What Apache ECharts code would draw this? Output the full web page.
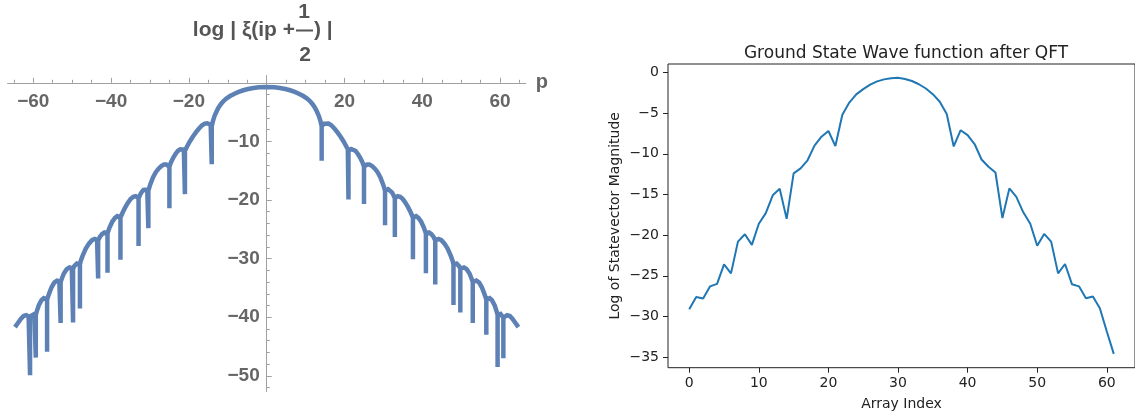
<!DOCTYPE html>
<html>
<head>
<meta charset="utf-8">
<script src="https://cdn.jsdelivr.net/npm/echarts@6/dist/echarts.min.js"></script>
<style>
  html, body { margin: 0; padding: 0; background: #fff; }
  #chart { width: 1135px; height: 419px; }
</style>
</head>
<body>
<div id="chart"></div>
<script>
// log|xi(ip + 1/2)| traced along p < 0 (points as [p, value]; spikes drop at the zeros)
const xiCurveNeg = [
  [-64.7, -41.7], [-63.9, -40.95], [-63.2, -40.3], [-62.5, -39.8], [-61.8, -39.65], [-61.2, -39.85],
  [-60.83, -40.1], [-60.83, -49.9], [-60.83, -40.1],
  [-60.5, -39.75], [-60.1, -39.45], [-59.7, -39.45],
  [-59.35, -39.6], [-59.35, -46.9], [-59.35, -39.6],
  [-59.1, -39.0], [-58.6, -38.0], [-57.9, -37.1], [-57.3, -36.75], [-56.8, -36.85],
  [-56.45, -37.0], [-56.45, -45.9], [-56.45, -37.0],
  [-56.0, -36.1], [-55.3, -34.9], [-54.6, -34.1], [-53.9, -33.75], [-53.3, -33.85],
  [-52.97, -34.0], [-52.97, -41.0], [-52.97, -34.0],
  [-52.6, -33.3], [-52.1, -32.5], [-51.4, -31.8], [-50.7, -31.5], [-50.1, -31.6],
  [-49.77, -31.7], [-49.77, -40.9], [-49.77, -31.7],
  [-49.4, -31.25], [-48.8, -30.85], [-48.3, -30.9],
  [-48.01, -31.0], [-48.01, -38.5], [-48.01, -31.0],
  [-47.8, -30.4], [-47.3, -29.5], [-46.5, -28.3], [-45.7, -27.45], [-44.9, -26.85], [-44.2, -26.65], [-43.6, -26.8],
  [-43.33, -26.9], [-43.33, -33.4], [-43.33, -26.9],
  [-42.9, -26.3], [-42.3, -25.8], [-41.7, -25.55], [-41.2, -25.6],
  [-40.92, -25.7], [-40.92, -32.4], [-40.92, -25.7],
  [-40.4, -24.7], [-39.7, -23.7], [-39.0, -23.05], [-38.4, -22.75], [-37.9, -22.85],
  [-37.59, -23.0], [-37.59, -30.2], [-37.59, -23.0],
  [-37.0, -22.1], [-36.4, -21.3], [-35.7, -20.5], [-35.0, -19.85], [-34.3, -19.45], [-33.7, -19.35], [-33.2, -19.5],
  [-32.94, -19.7], [-32.94, -27.85], [-32.94, -19.7],
  [-32.6, -19.2], [-32.2, -18.7], [-31.7, -18.3], [-31.2, -18.15], [-30.7, -18.25],
  [-30.42, -18.4], [-30.42, -24.8], [-30.42, -18.4],
  [-29.9, -17.3], [-29.2, -16.1], [-28.5, -15.25], [-27.8, -14.65], [-27.1, -14.2], [-26.4, -13.95], [-25.8, -13.95], [-25.3, -14.1],
  [-25.01, -14.3], [-25.01, -21.4], [-25.01, -14.3],
  [-24.6, -13.55], [-24.0, -12.75], [-23.4, -12.1], [-22.8, -11.6], [-22.2, -11.35], [-21.7, -11.3], [-21.3, -11.4],
  [-21.02, -11.6], [-21.02, -19.0], [-21.02, -11.6],
  [-20.85, -11.35], [-20.5, -10.9], [-19.8, -10.05], [-19.0, -9.2], [-18.2, -8.45], [-17.4, -7.8], [-16.6, -7.25],
  [-15.9, -6.95], [-15.3, -6.9], [-14.8, -6.98], [-14.4, -7.15],
  [-14.13, -7.4], [-14.13, -13.9], [-14.13, -7.4],
  [-13.8, -6.5], [-13.4, -5.65], [-12.9, -4.9], [-12.4, -4.25], [-11.8, -3.65], [-11.1, -3.1], [-10.3, -2.65],
  [-9.4, -2.25], [-8.4, -1.9], [-7.2, -1.55], [-6.0, -1.27], [-4.8, -1.05], [-3.4, -0.87], [-2.0, -0.77]
];

// the same curve along p >= 0
const xiCurvePos = [
  [0, -0.7], [2.0, -0.77], [3.4, -0.87], [4.8, -1.05], [6.0, -1.27], [7.2, -1.55], [8.4, -1.9], [9.4, -2.25],
  [10.3, -2.65], [11.1, -3.1], [11.8, -3.65], [12.4, -4.25], [12.9, -4.9], [13.4, -5.65], [13.8, -6.5],
  [14.13, -7.4], [14.13, -13.3], [14.13, -7.4],
  [14.4, -7.15], [14.8, -6.98], [15.3, -6.9], [15.9, -6.95], [16.6, -7.25], [17.4, -7.8], [18.2, -8.45],
  [19.0, -9.2], [19.8, -10.05], [20.5, -10.9], [20.85, -11.35],
  [21.02, -11.6], [21.02, -19.9], [21.02, -11.6],
  [21.3, -11.4], [21.7, -11.3], [22.2, -11.35], [22.8, -11.6], [23.4, -12.1], [24.0, -12.75], [24.6, -13.55],
  [25.01, -14.3], [25.01, -20.7], [25.01, -14.3],
  [25.3, -14.1], [25.8, -13.95], [26.4, -13.95], [27.1, -14.2], [27.8, -14.65], [28.5, -15.25], [29.2, -16.1], [29.9, -17.3],
  [30.42, -18.4], [30.42, -24.3], [30.42, -18.4],
  [30.7, -18.25], [31.2, -18.15], [31.7, -18.3], [32.2, -18.7], [32.6, -19.2],
  [32.94, -19.7], [32.94, -26.3], [32.94, -19.7],
  [33.2, -19.5], [33.7, -19.35], [34.3, -19.45], [35.0, -19.85], [35.7, -20.5], [36.4, -21.3], [37.0, -22.1],
  [37.59, -23.0], [37.59, -30.1], [37.59, -23.0],
  [37.9, -22.85], [38.4, -22.75], [39.0, -23.05], [39.7, -23.7], [40.4, -24.7],
  [40.92, -25.7], [40.92, -32.5], [40.92, -25.7],
  [41.2, -25.6], [41.7, -25.55], [42.3, -25.8], [42.9, -26.3],
  [43.33, -26.9], [43.33, -34.4], [43.33, -26.9],
  [43.6, -26.8], [44.2, -26.65], [44.9, -26.85], [45.7, -27.45], [46.5, -28.3], [47.3, -29.5], [47.8, -30.4],
  [48.01, -31.0], [48.01, -37.9], [48.01, -31.0],
  [48.3, -30.9], [48.8, -30.85], [49.4, -31.25],
  [49.77, -31.7], [49.77, -39.2], [49.77, -31.7],
  [50.1, -31.6], [50.7, -31.5], [51.4, -31.8], [52.1, -32.5], [52.6, -33.3],
  [52.97, -34.0], [52.97, -41.0], [52.97, -34.0],
  [53.3, -33.85], [53.9, -33.75], [54.6, -34.1], [55.3, -34.9], [56.0, -36.1],
  [56.45, -37.0], [56.45, -43.0], [56.45, -37.0],
  [56.8, -36.85], [57.3, -36.75], [57.9, -37.1], [58.6, -38.0], [59.1, -39.0],
  [59.35, -39.6], [59.35, -48.5], [59.35, -39.6],
  [59.7, -39.45], [60.1, -39.45], [60.5, -39.75],
  [60.83, -40.1], [60.83, -47.0], [60.83, -40.1],
  [61.2, -39.85], [61.8, -39.65], [62.5, -39.8], [63.2, -40.3], [63.9, -40.95], [64.7, -41.7]
];

const xiTicksP = [-60, -40, -20, 20, 40, 60];
const xiTicksLog = [-50, -40, -30, -20, -10];

// QFT of the ground state: log magnitude per array index
const stateLogMagnitude = [
  -29.1, -27.6, -27.8, -26.3, -26.0, -23.6, -24.7, -20.8, -19.9, -21.2,
  -18.6, -17.3, -15.1, -14.3, -18.0, -12.4, -11.8, -10.8, -9.0, -7.9,
  -7.2, -9.05, -5.2, -3.7, -2.7, -2.05, -1.5, -1.1, -0.85, -0.7,
  -0.66, -0.8, -1.05, -1.45, -1.97, -2.67, -3.6, -5.1, -9.1, -7.1,
  -7.7, -8.8, -10.7, -11.6, -12.3, -17.9, -14.25, -15.3, -17.2, -18.6,
  -21.3, -19.85, -20.8, -24.7, -23.55, -26.05, -26.3, -27.75, -27.55, -29.0,
  -31.85, -34.6
];
const indexTicks = [0, 10, 20, 30, 40, 50, 60];
const magnitudeTicks = [-35, -30, -25, -20, -15, -10, -5, 0];

const xiData = xiCurveNeg.concat(xiCurvePos);
const qftData = stateLogMagnitude.map((v, i) => [i, v]);

const mmaGrey = '#666666';
const mmaAxis = '#a0a0a0';
const mmaFont = '"Liberation Sans", Arial, sans-serif';
const mplFont = '"DejaVu Sans", sans-serif';
const minus = v => (v < 0 ? '\u2212' + Math.abs(v) : String(v));

// left plot frame: axes cross at the origin of the data range below
const xiRange = { pMin: -66.6, pMax: 66.6, vMin: -52.7, vMax: 1.25 };
const xiGrid = { left: 7.6, top: 75.5, width: 518.2, height: 316.1 };
const zeroRowOffset = -xiGrid.height * (0 - xiRange.vMin) / (xiRange.vMax - xiRange.vMin);
const zeroColOffset = -xiGrid.width * (0 - xiRange.pMin) / (xiRange.pMax - xiRange.pMin);

const chart = echarts.init(document.getElementById('chart'), null, { renderer: 'canvas' });

chart.setOption({
  animation: false,
  backgroundColor: '#ffffff',
  grid: [
    Object.assign({ containLabel: false, outerBoundsMode: 'none' }, xiGrid),
    { left: 668, top: 64, width: 467, height: 303.7, containLabel: false, outerBoundsMode: 'none',
      show: true, borderColor: '#222', borderWidth: 1, backgroundColor: 'transparent' }
  ],
  xAxis: [
    {
      gridIndex: 0, type: 'value', min: xiRange.pMin, max: xiRange.pMax, splitNumber: 6,
      position: 'bottom', offset: zeroRowOffset,
      name: 'p', nameLocation: 'end', nameGap: 10,
      nameTextStyle: { color: mmaGrey, fontFamily: mmaFont, fontWeight: 'bold', fontSize: 20, verticalAlign: 'middle', padding: [0, 0, 4, 0] },
      axisLine: { onZero: false, lineStyle: { color: mmaAxis, width: 1 } },
      axisTick: { show: true, inside: true, length: 5, customValues: xiTicksP, lineStyle: { color: mmaAxis, width: 1 } },
      minorTick: { show: true, splitNumber: 4, length: 3, lineStyle: { color: mmaAxis, width: 1 } },
      axisLabel: { customValues: xiTicksP, formatter: minus, color: mmaGrey, fontFamily: mmaFont, fontWeight: 'bold', fontSize: 19, margin: 9 },
      splitLine: { show: false }
    },
    {
      gridIndex: 1, type: 'value', min: -3.05, max: 64.05,
      name: 'Array Index', nameLocation: 'middle', nameGap: 30,
      nameTextStyle: { color: '#222', fontFamily: mplFont, fontSize: 14 },
      axisLine: { show: false, onZero: false },
      axisTick: { show: true, length: 5, customValues: indexTicks, lineStyle: { color: '#222', width: 1 } },
      axisLabel: { customValues: indexTicks, color: '#222', fontFamily: mplFont, fontSize: 14, margin: 9 },
      splitLine: { show: false }
    }
  ],
  yAxis: [
    {
      gridIndex: 0, type: 'value', min: xiRange.vMin, max: xiRange.vMax, splitNumber: 5,
      position: 'left', offset: zeroColOffset,
      axisLine: { onZero: false, lineStyle: { color: mmaAxis, width: 1 } },
      axisTick: { show: true, inside: true, length: 5, customValues: xiTicksLog, lineStyle: { color: mmaAxis, width: 1 } },
      minorTick: { show: true, splitNumber: 5, length: 3, lineStyle: { color: mmaAxis, width: 1 } },
      axisLabel: { customValues: xiTicksLog, formatter: minus, color: mmaGrey, fontFamily: mmaFont, fontWeight: 'bold', fontSize: 19, margin: 7 },
      splitLine: { show: false }
    },
    {
      gridIndex: 1, type: 'value', min: -36.3, max: 1.04,
      name: 'Log of Statevector Magnitude', nameLocation: 'middle', nameGap: 46, nameRotate: 90,
      nameTextStyle: { color: '#222', fontFamily: mplFont, fontSize: 14 },
      axisLine: { show: false, onZero: false },
      axisTick: { show: true, length: 5, customValues: magnitudeTicks, lineStyle: { color: '#222', width: 1 } },
      axisLabel: { customValues: magnitudeTicks, formatter: minus, color: '#222', fontFamily: mplFont, fontSize: 14, margin: 9 },
      splitLine: { show: false }
    }
  ],
  title: [{
    text: 'Ground State Wave function after QFT',
    left: 901, top: 40, textAlign: 'center',
    textStyle: { color: '#222', fontFamily: mplFont, fontSize: 17, fontWeight: 'normal' }
  }],
  graphic: [
    { type: 'text', x: 295, y: 30, style: { text: 'log | \u03be(ip +', align: 'right', verticalAlign: 'middle', fill: '#555', font: 'bold 21px ' + mmaFont } },
    { type: 'text', x: 304, y: 12, style: { text: '1', align: 'center', verticalAlign: 'middle', fill: '#555', font: 'bold 21px ' + mmaFont } },
    { type: 'line', shape: { x1: 296, y1: 30.5, x2: 313, y2: 30.5 }, style: { stroke: '#555', lineWidth: 2 } },
    { type: 'text', x: 305, y: 55, style: { text: '2', align: 'center', verticalAlign: 'middle', fill: '#555', font: 'bold 21px ' + mmaFont } },
    { type: 'text', x: 314, y: 30, style: { text: ') |', align: 'left', verticalAlign: 'middle', fill: '#555', font: 'bold 21px ' + mmaFont } }
  ],
  series: [
    {
      type: 'line', xAxisIndex: 0, yAxisIndex: 0, data: xiData,
      showSymbol: false, smooth: false, clip: true,
      lineStyle: { color: '#5e81b5', width: 4.5, cap: 'butt', join: 'miter', miterLimit: 2 }
    },
    {
      type: 'line', xAxisIndex: 1, yAxisIndex: 1, data: qftData,
      showSymbol: false, smooth: false,
      lineStyle: { color: '#1f77b4', width: 2 }
    }
  ]
});
</script>
</body>
</html>
